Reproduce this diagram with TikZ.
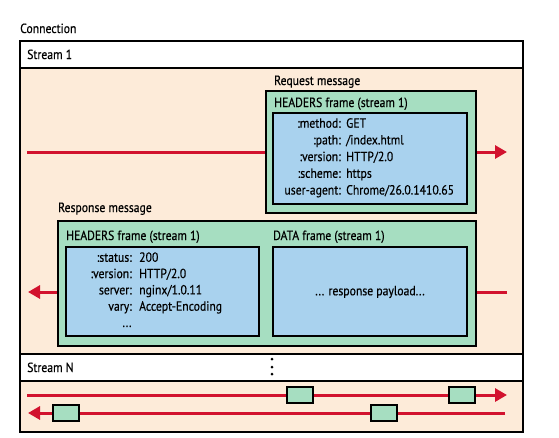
\documentclass[tikz,border=0pt]{standalone}
\usepackage{fontspec}
\setmainfont[FakeStretch=0.88,FakeBold=0.4]{PT Sans}
\usetikzlibrary{arrows.meta}
\definecolor{peach}{HTML}{FDEBD9}
\definecolor{mint}{HTML}{A6DEC1}
\definecolor{sky}{HTML}{A9D2EE}
\definecolor{hred}{HTML}{D2122E}
\tikzset{
  region/.style={draw=black, line width=1.4pt, rectangle, inner sep=0pt, outer sep=0pt, anchor=north west},
  lbl/.style={inner sep=0pt, anchor=base west},
  keytxt/.style={inner sep=0pt, anchor=base east},
  valtxt/.style={inner sep=0pt, anchor=base west},
  flow/.style={draw=hred, line width=3pt, -{Triangle[length=12pt,width=13pt]}},
  pkt/.style={region, fill=mint, minimum width=26pt, minimum height=16pt},
}
\begin{document}
\begin{tikzpicture}[x=1pt,y=-1pt,font=\fontsize{13.3}{15}\selectfont]
\useasboundingbox (0,0) rectangle (559,437);
\node[lbl] (conn) at (20,33) {Connection};
% stream 1
\node[region, fill=white, minimum width=503pt, minimum height=27pt] (s1head) at (20,41) {};
\node[lbl] (s1lbl) at (27,59) {Stream 1};
\node[region, fill=peach, minimum width=503pt, minimum height=286pt] (s1body) at (20,68) {};
% stream N
\node[region, fill=white, minimum width=503pt, minimum height=27pt] (snhead) at (20,354) {};
\node[lbl] (snlbl) at (27,372) {Stream N};
\node[region, fill=peach, minimum width=503pt, minimum height=51pt] (snbody) at (20,381) {};
% dots
\fill (272,359) circle (1.5pt) (272,367) circle (1.5pt) (272,374) circle (1.5pt);
% request arrow
\coordinate (reqA) at (27,152);
\coordinate (reqB) at (507,152);
\draw[flow] (reqA) -- (reqB);
% response arrow
\coordinate (resA) at (507,292);
\coordinate (resB) at (28,292);
\draw[flow] (resA) -- (resB);
% request message
\node[lbl] (reqlbl) at (274,85) {Request message};
\node[region, fill=mint, minimum width=210pt, minimum height=122pt] (reqgreen) at (266,91) {};
\node[lbl] (reqhdr) at (274,107) {HEADERS frame (stream 1)};
\node[region, fill=sky, minimum width=194pt, minimum height=91pt] (reqblue) at (273,113) {};
\foreach \k/\v [count=\i] in {:method:/GET, :path:/{/index.html}, :version:/{HTTP/2.0}, :scheme:/https, user-agent:/{Chrome/26.0.1410.65}}{
  \node[keytxt] (rk\i) at (341,{111+16.7*\i}) {\k};
  \node[valtxt] (rv\i) at (346,{111+16.7*\i}) {\v};
}
% response message
\node[lbl] (reslbl) at (58,212) {Response message};
\node[region, fill=mint, minimum width=418pt, minimum height=125pt] (resgreen) at (58,221) {};
\node[lbl] (reshdr) at (66,240) {HEADERS frame (stream 1)};
\node[lbl] (datahdr) at (273,240) {DATA frame (stream 1)};
\node[region, fill=sky, minimum width=193pt, minimum height=89pt] (resblue) at (66,247) {};
\node[region, fill=sky, minimum width=194pt, minimum height=89pt] (datablue) at (273,247) {};
\foreach \k/\v [count=\i] in {:status:/200, :version:/{HTTP/2.0}, server:/{nginx/1.0.11}, vary:/{Accept-Encoding}}{
  \node[keytxt] (sk\i) at (132,{245.5+16.3*\i}) {\k};
  \node[valtxt] (sv\i) at (139,{245.5+16.3*\i}) {\v};
}
\node[inner sep=0pt, anchor=base] (sdots) at (127,327) {...};
\node[inner sep=0pt] (payload) at (370,292) {... response payload...};
% stream N traffic
\coordinate (nA) at (27,395);
\coordinate (nB) at (507,395);
\draw[flow] (nA) -- (nB);
\coordinate (nC) at (505,413);
\coordinate (nD) at (28,413);
\draw[flow] (nC) -- (nD);
\node[pkt] (p1) at (287,387) {};
\node[pkt] (p2) at (449,387) {};
\node[pkt] (p3) at (53,405) {};
\node[pkt] (p4) at (371,405) {};
\end{tikzpicture}
\end{document}
